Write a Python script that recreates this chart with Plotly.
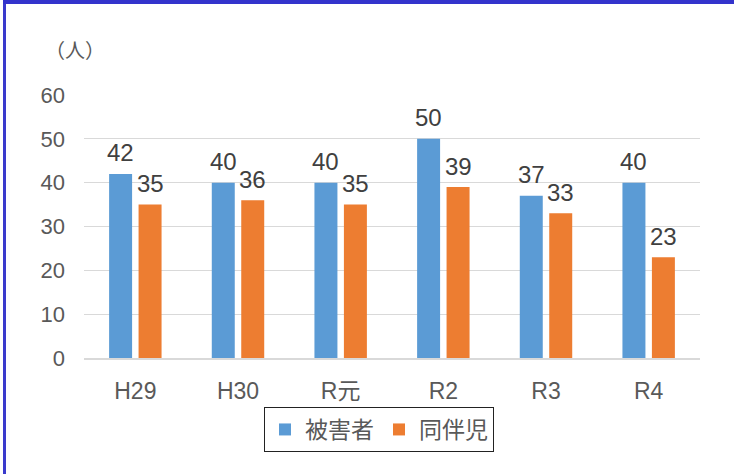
import plotly.graph_objects as go

categories = ["H29", "H30", "R元", "R2", "R3", "R4"]
victims = [42, 40, 40, 50, 37, 40]
children = [35, 36, 35, 39, 33, 23]
series_names = ["被害者", "同伴児"]
y_ticks = [0, 10, 20, 30, 40, 50, 60]

BLUE = "#5B9BD5"
ORANGE = "#ED7D31"
FONT = "Liberation Sans, Arial, Noto Sans CJK JP, sans-serif"

W, H = 734, 474
ML, MR, MT, MB = 84, 34, 95, 116
PW = W - ML - MR
PH = H - MT - MB

fig = go.Figure()
fig.add_trace(go.Bar(x=categories, y=victims, name=series_names[0],
                     marker=dict(color=BLUE, line=dict(width=0))))
fig.add_trace(go.Bar(x=categories, y=children, name=series_names[1],
                     marker=dict(color=ORANGE, line=dict(width=0))))

annotations = []
for cat, v, c in zip(categories, victims, children):
    for val, dx in ((v, -14.7), (c, 14.7)):
        annotations.append(dict(x=cat, y=val, xref="x", yref="y", text=str(val),
                                showarrow=False, xshift=dx, yshift=21, yanchor="middle",
                                font=dict(family=FONT, size=24, color="#404040")))

annotations.append(dict(xref="paper", yref="paper", x=(43 - ML) / PW, y=(MT + PH - 50) / PH,
                        xanchor="left", yanchor="middle", text="（人）", showarrow=False,
                        font=dict(family="Noto Sans CJK JP", size=20, color="#595959")))

def px_x(p):
    return (p - ML) / PW

def px_y(p):
    return (MT + PH - p) / PH

shapes = [
    dict(type="rect", xref="paper", yref="paper", x0=px_x(3), x1=px_x(6),
         y0=px_y(H + 2), y1=px_y(-2), fillcolor="#3A3ACC", line=dict(width=0), layer="above"),
    dict(type="rect", xref="paper", yref="paper", x0=px_x(3), x1=px_x(W + 2),
         y0=px_y(4), y1=px_y(-2), fillcolor="#3333CC", line=dict(width=0), layer="above"),
]

fig.update_layout(
    width=W, height=H,
    margin=dict(l=ML, r=MR, t=MT, b=MB, pad=0),
    paper_bgcolor="white", plot_bgcolor="white",
    barmode="group", bargap=0.426, bargroupgap=0.22,
    font=dict(family=FONT, color="#595959"),
    showlegend=True,
    legend=dict(orientation="h", xanchor="center", x=px_x(379), yanchor="top", y=px_y(407),
                bordercolor="#222222", borderwidth=1, bgcolor="white",
                font=dict(family="Noto Sans CJK JP", size=23, color="#595959"),
                itemwidth=30),
    annotations=annotations,
    shapes=shapes,
)
fig.update_xaxes(showgrid=False, showline=True, linecolor="#D9D9D9", linewidth=1.5,
                 ticks="", tickfont=dict(family=FONT, size=23, color="#595959"),
                 ticklabelstandoff=12)
fig.update_yaxes(range=[0, 60], tickvals=y_ticks, showgrid=True, gridcolor="#D9D9D9",
                 gridwidth=1, zeroline=False, showline=False, ticks="",
                 tickfont=dict(family=FONT, size=22, color="#595959"),
                 ticklabelstandoff=18)

fig.write_html("out.html", config={"displayModeBar": False},
               post_script="document.body.style.margin='0';")
